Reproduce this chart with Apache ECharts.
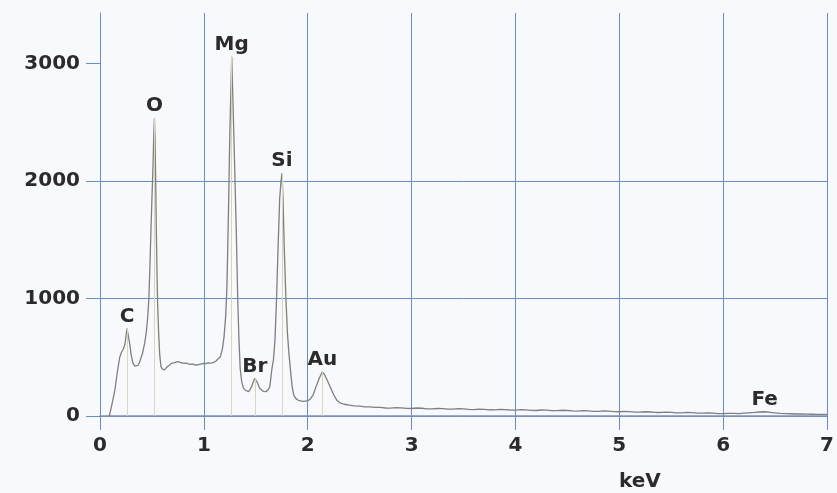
<!DOCTYPE html>
<html>
<head>
<meta charset="utf-8">
<title>EDS spectrum</title>
<script src="https://cdn.jsdelivr.net/npm/echarts@6/dist/echarts.min.js"></script>
<style>
    html, body { margin: 0; padding: 0; background: #f7f9fc; }
    #chart { width: 837px; height: 493px; }
</style>
</head>
<body>
<div id="chart"></div>
<script>
// Espectro EDS (keV, cuentas)
const energyKeV = [
    0.09, 0.095, 0.12, 0.143, 0.16, 0.175, 0.19, 0.206, 0.225, 0.24, 0.26, 0.285, 0.30, 0.317, 0.335, 0.35, 0.365, 0.38,
    0.41, 0.43, 0.445, 0.46, 0.47, 0.48, 0.49, 0.50, 0.51, 0.518, 0.524, 0.53, 0.536, 0.542, 0.548, 0.555, 0.565, 0.575,
    0.587, 0.60, 0.62, 0.64, 0.667, 0.69, 0.71, 0.73, 0.75, 0.77, 0.79, 0.81, 0.83, 0.85, 0.87, 0.89, 0.91, 0.93, 0.95,
    0.97, 1.00, 1.02, 1.04, 1.06, 1.08, 1.10, 1.12, 1.14, 1.16, 1.18, 1.195, 1.21, 1.222, 1.236, 1.25, 1.268, 1.284,
    1.30, 1.314, 1.326, 1.338, 1.35, 1.365, 1.38, 1.397, 1.415, 1.43, 1.445, 1.46, 1.475, 1.49, 1.505, 1.52, 1.535,
    1.555, 1.575, 1.60, 1.62, 1.635, 1.655, 1.67, 1.685, 1.70, 1.715, 1.73, 1.742, 1.752, 1.762, 1.775, 1.79, 1.805,
    1.82, 1.835, 1.85, 1.865, 1.885, 1.905, 1.93, 1.96, 1.99, 2.02, 2.05, 2.08, 2.11, 2.14, 2.16, 2.19, 2.22, 2.25,
    2.28, 2.31, 2.35,
    2.40, 2.45, 2.50, 2.55, 2.60, 2.65, 2.70, 2.75, 2.80, 2.85, 2.90, 2.95, 3.00, 3.05, 3.10, 3.15, 3.20, 3.25, 3.30,
    3.35, 3.40, 3.45, 3.50, 3.55, 3.60, 3.65, 3.70, 3.75, 3.80, 3.85, 3.90, 3.95, 4.00, 4.05, 4.10, 4.15, 4.20, 4.25,
    4.30, 4.35, 4.40, 4.45, 4.50, 4.55, 4.60, 4.65, 4.70, 4.75, 4.80, 4.85, 4.90, 4.95, 5.00, 5.05, 5.10, 5.15, 5.20,
    5.25, 5.30, 5.35, 5.40, 5.45, 5.50, 5.55, 5.60, 5.65, 5.70, 5.75, 5.80, 5.85, 5.90, 5.95, 6.00, 6.05, 6.10, 6.15,
    6.20, 6.25, 6.30, 6.35, 6.40, 6.45, 6.50, 6.55, 6.60, 6.65, 6.70, 6.75, 6.80, 6.85, 6.90, 6.95, 7.00
];
const counts = [
    0, 20, 120, 220, 330, 420, 500, 540, 570, 610, 745, 620, 520, 450, 425, 418, 430, 455,
    536, 620, 706, 850, 990, 1250, 1560, 1850, 2120, 2400, 2535, 2350, 2000, 1600, 1250, 950, 700, 520,
    420, 398, 392, 412, 432, 448, 452, 458, 462, 456, 452, 448, 451, 444, 440, 443, 436, 434, 438,
    442, 448, 446, 452, 450, 452, 458, 470, 490, 505, 580, 680, 850, 1100, 1700, 2400, 3058, 2550,
    2000, 1500, 1000, 650, 400, 290, 240, 221, 212, 207, 225, 250, 290, 320, 300, 275, 240,
    221, 210, 207, 225, 250, 400, 480, 650, 1000, 1450, 1850, 1990, 2066, 1850, 1400, 1000, 700,
    520, 380, 250, 180, 150, 136, 128, 125, 128, 140, 175, 250, 320, 375, 355, 300, 240, 180,
    135, 112, 100,
    92, 86, 84, 78, 77, 74, 73, 68, 67, 72, 70, 65, 64, 68, 66, 61, 60, 64, 63,
    58, 58, 62, 60, 56, 55, 59, 57, 53, 52, 56, 55, 51, 50, 54, 52, 48, 47, 51,
    50, 46, 45, 49, 47, 43, 42, 46, 44, 40, 40, 43, 41, 37, 36, 39, 37, 33, 33,
    36, 34, 30, 30, 33, 31, 27, 27, 30, 28, 24, 24, 27, 25, 21, 21, 23, 22, 21,
    24, 27, 30, 34, 36, 31, 26, 22, 20, 19, 17, 18, 16, 15, 14, 14, 13
];

// Picos identificados
const peakNames = ['C', 'O', 'Mg', 'Br', 'Si', 'Au', 'Fe'];
const peakKeV = [0.26, 0.524, 1.268, 1.49, 1.752, 2.14, 6.40];
const peakCounts = [745, 2535, 3058, 320, 2066, 375, 36];
const markerPeaks = ['C', 'O', 'Mg', 'Br', 'Si', 'Au'];

// Ejes
const xTicks = [0, 1, 2, 3, 4, 5, 6, 7];
const yTicks = [0, 1000, 2000, 3000];

const gridBlue = '#6a8cc6';
const textDark = '#2b2b2b';
const fontBold = { fontFamily: 'DejaVu Sans', fontWeight: 'bold', fontSize: 20, color: textDark };

const chart = echarts.init(document.getElementById('chart'));

const spectrumData = energyKeV.map((e, i) => [e, counts[i]]);
const markerLines = markerPeaks.map(name => {
    const i = peakNames.indexOf(name);
    return [{ coord: [peakKeV[i], 0] }, { coord: [peakKeV[i], peakCounts[i]] }];
});
const labelData = peakNames.map((name, i) => ({ name: name, value: [peakKeV[i], peakCounts[i]] }));

const option = {
    backgroundColor: '#f7f9fc',
    animation: false,
    grid: { left: 100, right: 1, top: 13, bottom: 77 },
    xAxis: {
        type: 'value',
        min: xTicks[0],
        max: xTicks[xTicks.length - 1],
        interval: 1,
        axisLine: { show: true, lineStyle: { color: '#7d93b9', width: 1.5 } },
        axisTick: { show: true, length: 14, lineStyle: { color: gridBlue } },
        axisLabel: Object.assign({ margin: 20, formatter: v => String(v) }, fontBold),
        splitLine: { show: true, lineStyle: { color: gridBlue, width: 1 } }
    },
    yAxis: {
        type: 'value',
        min: 0,
        max: 3430,
        interval: 1000,
        axisLine: { show: true, lineStyle: { color: gridBlue, width: 1 } },
        axisTick: { show: true, length: 14, customValues: yTicks, lineStyle: { color: gridBlue } },
        axisLabel: Object.assign({ margin: 20, customValues: yTicks, formatter: v => String(v) }, fontBold),
        splitLine: { show: true, showMaxLine: false, lineStyle: { color: gridBlue, width: 1 } }
    },
    graphic: [{
        type: 'text',
        left: 640 - 21,
        top: 483 - 11,
        style: { text: 'keV', font: 'bold 20px "DejaVu Sans"', fill: textDark }
    }],
    series: [
        {
            // líneas de marcador de picos
            type: 'line',
            data: [],
            z: 1,
            silent: true,
            markLine: {
                symbol: 'none',
                silent: true,
                label: { show: false },
                lineStyle: { color: '#dbd6b8', width: 1, type: 'solid' },
                data: markerLines
            }
        },
        {
            name: 'Espectro',
            type: 'line',
            data: spectrumData,
            z: 2,
            showSymbol: false,
            symbol: 'none',
            lineStyle: { color: '#7f7f7f', width: 1.3 }
        },
        {
            name: 'Elementos',
            type: 'scatter',
            data: labelData,
            z: 3,
            symbolSize: 0,
            itemStyle: { opacity: 1 },
            label: Object.assign({
                show: true,
                position: 'top',
                distance: 2,
                opacity: 1,
                formatter: p => p.name
            }, fontBold)
        }
    ]
};

chart.setOption(option);
</script>
</body>
</html>
